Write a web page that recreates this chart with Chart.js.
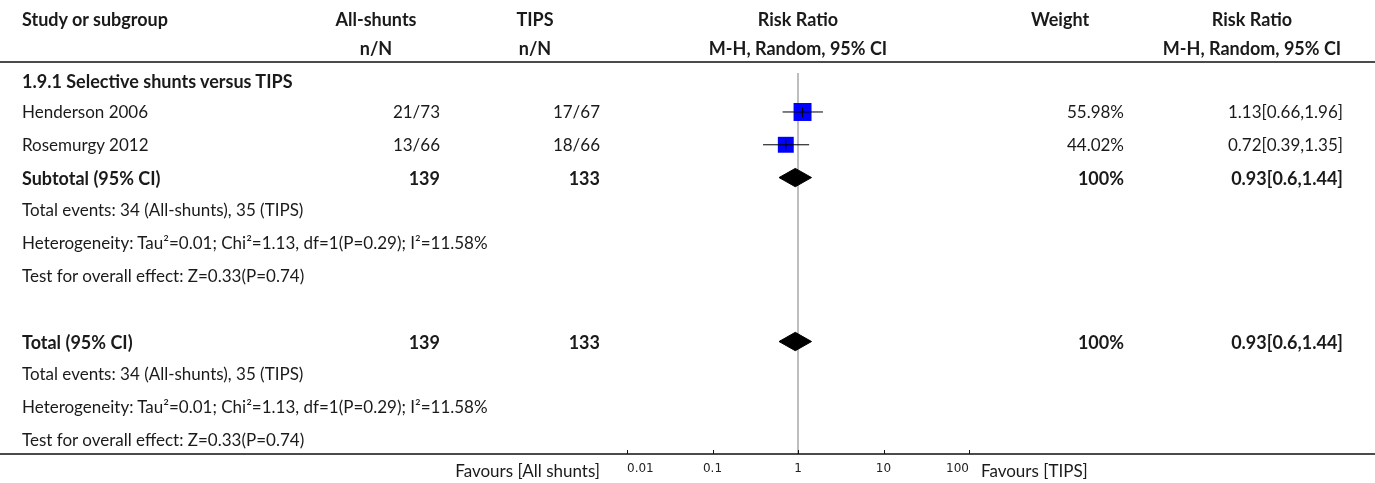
<!DOCTYPE html>
<html>
<head>
<meta charset="utf-8">
<script src="https://cdn.jsdelivr.net/npm/chart.js@4.4.0/dist/chart.umd.min.js"></script>
<style>
  html, body { margin: 0; padding: 0; background: #fff; }
  #wrap { position: relative; width: 1375px; height: 483px; overflow: hidden; }
  #forest { position: absolute; left: 0; top: 0; }
  .cell { position: absolute; font-family: Lato, sans-serif; font-size: 17px; color: #1a1a1a; white-space: nowrap; line-height: 20px; }
  .b { font-weight: bold; font-size: 18px; }
</style>
</head>
<body>
<div id="wrap">
  <canvas id="forest" width="1375" height="483"></canvas>
  <div id="cells"></div>
</div>
<script>
// forest plot data
const groupTitle = '1.9.1 Selective shunts versus TIPS';
const studyNames = ['Henderson 2006', 'Rosemurgy 2012'];
const shuntEvents = ['21/73', '13/66'];
const tipsEvents = ['17/67', '18/66'];
const riskRatio = [1.13, 0.72];
const ciLower = [0.66, 0.39];
const ciUpper = [1.96, 1.35];
const weights = [55.98, 44.02];

const pooledLabels = ['Subtotal (95% CI)', 'Total (95% CI)'];
const pooledShuntN = [139, 139];
const pooledTipsN = [133, 133];
const pooledWeight = [100, 100];
const pooledRR = [0.93, 0.93];
const pooledLower = [0.6, 0.6];
const pooledUpper = [1.44, 1.44];

const noteLines = [
  'Total events: 34 (All-shunts), 35 (TIPS)',
  'Heterogeneity: Tau\u00b2=0.01; Chi\u00b2=1.13, df=1(P=0.29); I\u00b2=11.58%',
  'Test for overall effect: Z=0.33(P=0.74)'
];
const xTicks = [0.01, 0.1, 1, 10, 100];

// row layout (row index -> y value on the hidden y axis)
const studyRows = [3, 4];
const pooledRows = [5, 10];
const noteRows = [[6, 7, 8], [11, 12, 13]];
const HALF_DIAMOND = 0.28;

const datasets = [];

// confidence interval lines
studyNames.forEach((name, i) => {
    datasets.push({
        type: 'line',
        data: [{ x: ciLower[i], y: studyRows[i] }, { x: ciUpper[i], y: studyRows[i] }],
        borderColor: '#000',
        borderWidth: 1,
        pointRadius: 0,
        order: 2
    });
});

// weighted squares
datasets.push({
    type: 'scatter',
    data: riskRatio.map((v, i) => ({ x: v, y: studyRows[i] })),
    pointStyle: 'rect',
    pointRadius: weights.map(w => 2.4 * Math.sqrt(w) / (2 * Math.SQRT1_2)),
    backgroundColor: '#0000ff',
    borderWidth: 0,
    order: 3
});

// little vertical mark at each estimate
datasets.push({
    type: 'scatter',
    data: riskRatio.map((v, i) => ({ x: v, y: studyRows[i] })),
    pointStyle: 'line',
    rotation: 90,
    pointRadius: 5,
    borderColor: '#000',
    borderWidth: 1,
    order: 1
});

// pooled diamonds: top edge filled down to bottom edge
pooledRows.forEach((row, i) => {
    datasets.push({
        type: 'line',
        data: [{ x: pooledLower[i], y: row }, { x: pooledRR[i], y: row - HALF_DIAMOND }, { x: pooledUpper[i], y: row }],
        fill: '+1',
        backgroundColor: '#000',
        borderColor: '#000',
        borderWidth: 1,
        pointRadius: 0,
        tension: 0,
        order: 2
    });
    datasets.push({
        type: 'line',
        data: [{ x: pooledLower[i], y: row }, { x: pooledRR[i], y: row + HALF_DIAMOND }, { x: pooledUpper[i], y: row }],
        fill: false,
        borderColor: '#000',
        borderWidth: 1,
        pointRadius: 0,
        tension: 0,
        order: 2
    });
});

const decor = {
    id: 'decor',
    beforeDatasetsDraw(chart) {
        const ctx = chart.ctx;
        const area = chart.chartArea;
        const x1 = chart.scales.x.getPixelForValue(1);
        ctx.save();
        ctx.strokeStyle = '#a8a8a8';
        ctx.lineWidth = 1.5;
        ctx.beginPath();
        ctx.moveTo(x1, 73);
        ctx.lineTo(x1, area.bottom);
        ctx.stroke();
        ctx.restore();
    },
    afterDraw(chart) {
        const ctx = chart.ctx;
        const area = chart.chartArea;
        ctx.save();
        ctx.strokeStyle = '#111';
        ctx.lineWidth = 1.5;
        ctx.beginPath();
        ctx.moveTo(0, 62); ctx.lineTo(chart.width, 62);
        ctx.moveTo(0, area.bottom); ctx.lineTo(chart.width, area.bottom);
        ctx.stroke();
        ctx.lineWidth = 1;
        ctx.beginPath();
        xTicks.forEach(v => {
            const px = Math.round(chart.scales.x.getPixelForValue(v)) + 0.5;
            ctx.moveTo(px, area.bottom);
            ctx.lineTo(px, area.bottom - 4);
        });
        ctx.stroke();
        ctx.restore();
    }
};

const ctx = document.getElementById('forest').getContext('2d');
const forestChart = new Chart(ctx, {
    type: 'line',
    data: { datasets: datasets },
    options: {
        responsive: false,
        animation: false,
        events: [],
        layout: { autoPadding: false, padding: { left: 627, right: 406, top: 0, bottom: 0 } },
        plugins: { legend: { display: false }, tooltip: { enabled: false } },
        scales: {
            x: {
                type: 'logarithmic',
                min: 0.01,
                max: 100,
                afterBuildTicks: s => { s.ticks = xTicks.map(v => ({ value: v })); },
                afterFit: s => { s.height = 29; },
                grid: { display: false, drawTicks: false },
                border: { display: false },
                ticks: {
                    autoSkip: false,
                    maxRotation: 0,
                    align: 'inner',
                    padding: 8,
                    color: '#222',
                    font: { family: 'DejaVu Sans', size: 12 },
                    callback: v => String(v)
                }
            },
            y: { type: 'linear', min: -0.415, max: 13.43, reverse: true, display: false }
        }
    },
    plugins: [decor]
});

// table text, placed on the chart's own row scale
const cells = document.getElementById('cells');
const yScale = forestChart.scales.y;
function cell(text, x, row, align, bold) {
    const d = document.createElement('div');
    d.className = 'cell' + (bold ? ' b' : '');
    d.textContent = text;
    d.style.top = (yScale.getPixelForValue(row) - 10) + 'px';
    if (align === 'left') d.style.left = x + 'px';
    else if (align === 'right') d.style.right = (1375 - x) + 'px';
    else { d.style.left = x + 'px'; d.style.transform = 'translateX(-50%)'; }
    cells.appendChild(d);
}

const X_STUDY = 22, X_N1 = 440, X_N2 = 600, X_W = 1124, X_CI = 1343;
const C_N1 = 376, C_N2 = 535, C_W = 1060, C_CI = 1252;
const C_PLOT = forestChart.scales.x.getPixelForValue(1);

cell('Study or subgroup', X_STUDY, 0.15, 'left', true);
cell('All-shunts', C_N1, 0.15, 'center', true);
cell('TIPS', C_N2, 0.15, 'center', true);
cell('Risk Ratio', C_PLOT, 0.15, 'center', true);
cell('Weight', C_W, 0.15, 'center', true);
cell('Risk Ratio', C_CI, 0.15, 'center', true);
cell('n/N', C_N1, 1.05, 'center', true);
cell('n/N', C_N2, 1.05, 'center', true);
cell('M-H, Random, 95% CI', C_PLOT, 1.05, 'center', true);
cell('M-H, Random, 95% CI', C_CI, 1.05, 'center', true);

cell(groupTitle, X_STUDY, 2.05, 'left', true);
studyNames.forEach((name, i) => {
    const r = studyRows[i];
    cell(name, X_STUDY, r, 'left', false);
    cell(shuntEvents[i], X_N1, r, 'right', false);
    cell(tipsEvents[i], X_N2, r, 'right', false);
    cell(weights[i] + '%', X_W, r, 'right', false);
    cell(riskRatio[i] + '[' + ciLower[i] + ',' + ciUpper[i] + ']', X_CI, r, 'right', false);
});
pooledLabels.forEach((label, i) => {
    const r = pooledRows[i];
    cell(label, X_STUDY, r, 'left', true);
    cell(String(pooledShuntN[i]), X_N1, r, 'right', true);
    cell(String(pooledTipsN[i]), X_N2, r, 'right', true);
    cell(pooledWeight[i] + '%', X_W, r, 'right', true);
    cell(pooledRR[i] + '[' + pooledLower[i] + ',' + pooledUpper[i] + ']', X_CI, r, 'right', true);
    noteLines.forEach((line, j) => cell(line, X_STUDY, noteRows[i][j], 'left', false));
});

const area = forestChart.chartArea;
const favLeft = document.createElement('div');
favLeft.className = 'cell';
favLeft.textContent = 'Favours [All shunts]';
favLeft.style.right = (1375 - (area.left - 27)) + 'px';
favLeft.style.top = (area.bottom + 7) + 'px';
cells.appendChild(favLeft);
const favRight = document.createElement('div');
favRight.className = 'cell';
favRight.textContent = 'Favours [TIPS]';
favRight.style.left = (area.right + 12) + 'px';
favRight.style.top = (area.bottom + 7) + 'px';
cells.appendChild(favRight);
</script>
</body>
</html>
